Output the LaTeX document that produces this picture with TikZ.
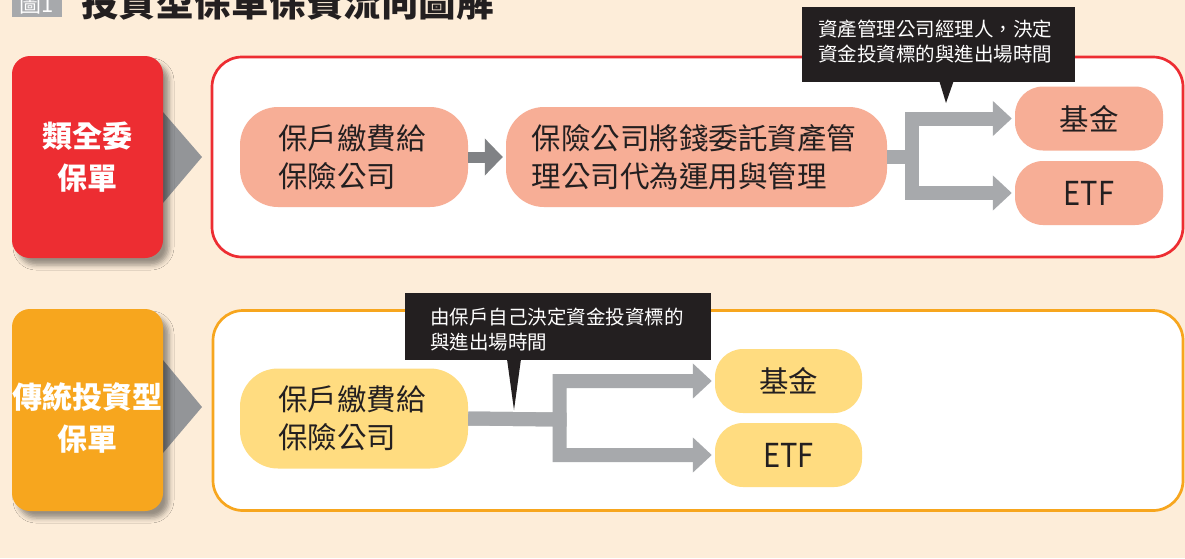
\documentclass[tikz,border=0pt]{standalone}
\usepackage{fontspec}
\newfontfamily\cjk{Noto Sans CJK TC}
\usetikzlibrary{arrows.meta,shadows.blur,calc}
\definecolor{bg}{RGB}{253,237,217}
\definecolor{rred}{RGB}{237,45,50}
\definecolor{oorange}{RGB}{247,166,30}
\definecolor{salmon}{RGB}{247,174,150}
\definecolor{yel}{RGB}{255,220,128}
\definecolor{ink}{RGB}{35,31,32}
\definecolor{gdark}{RGB}{128,130,133}
\definecolor{glight}{RGB}{167,169,172}
\definecolor{gtri}{RGB}{147,149,152}
\newcommand\etf{\scalebox{0.88}[1]{\fontsize{33}{33}\selectfont ETF}}
\tikzset{
 labelbox/.style={rounded corners=18pt, minimum width=151pt, minimum height=202pt, inner sep=0pt,
   blur shadow={shadow xshift=6pt, shadow yshift=-7pt, shadow blur radius=5pt, shadow opacity=40}},
 labeltext/.style={text=white, font=\cjk\bfseries\fontsize{30}{42}\selectfont, align=center, inner sep=0pt},
 frame/.style={draw, line width=2.7pt, fill=white, rounded corners=30pt, inner sep=0pt},
 stepbox/.style={rounded corners=38pt, minimum height=100pt, text=ink, font=\cjk\fontsize{29.5}{38}\selectfont, align=left, inner sep=0pt},
 leafbox/.style={rounded corners=28pt, minimum width=148pt, minimum height=64pt, text=ink, font=\cjk\fontsize{29.5}{36}\selectfont, inner sep=0pt},
 callbox/.style={fill=ink, inner sep=0pt},
 calltext/.style={text=white, font=\cjk\fontsize{19.5}{25}\selectfont, align=left, inner sep=0pt},
 branch/.style={draw=glight, line width=14pt, line join=miter, -{Triangle[length=19pt,width=34pt]}, shorten >=3pt},
 smallarrow/.style={draw=gdark, line width=11pt, -{Triangle[length=18pt,width=36pt]}, shorten >=3pt},
}
\begin{document}
\begin{tikzpicture}[x=1pt,y=-1pt]
\useasboundingbox (0,0) rectangle (1185,558);
\clip (0,0) rectangle (1185,558);
\fill[bg] (0,0) rectangle (1185,558);

% title (cut at top, as in the reference)
\fill[glight] (12,-20) rectangle (62,17);
\node[anchor=base, text=white, inner sep=0pt, font=\cjk\fontsize{22}{22}\selectfont] (titlenum) at (37,12) {圖1};
\node[anchor=base west, inner sep=0pt, text=ink, font=\cjk\bfseries\fontsize{37.5}{40}\selectfont] (title) at (81,16) {投資型保單保費流向圖解};

% ---------- row 1 ----------
\fill[gtri] (163,112) -- (202,157) -- (163,203) -- cycle;
\node[labelbox, fill=rred] (lab1) at (87.5,157) {};
\node[labeltext] (lab1t) at (87.5,157) {類全委\\保單};
\node[frame, draw=rred, minimum width=971pt, minimum height=200pt] (fr1) at (697.5,157) {};

\node[stepbox, fill=salmon, minimum width=228pt, text width=152pt] (p1) at (354,157) {保戶繳費給\\保險公司};
\node[stepbox, fill=salmon, minimum width=381pt, text width=330pt] (p2) at (696.5,157) {保險公司將錢委託資產管\\理公司代為運用與管理};
\node[leafbox, fill=salmon] (f1) at (1089,118.5) {基金};
\node[leafbox, fill=salmon] (e1) at (1089,193) {\etf};

\draw[smallarrow] (p1.east) -- (p2.west);
\draw[branch] (p2.east) -- (912,157) |- (f1.west);
\draw[branch] (p2.east) -- (912,157) |- (e1.west);

\node[callbox, minimum width=273pt, minimum height=75pt] (c1) at (938.5,44.5) {};
\fill[ink] (939,80) -- (954,80) -- (946,103) -- cycle;
\node[calltext, anchor=west] (c1t) at ($(c1.west)+(16,-3)$) {資產管理公司經理人，決定\\資金投資標的與進出場時間};

% ---------- row 2 ----------
\fill[gtri] (163,360) -- (202,407) -- (163,453) -- cycle;
\node[labelbox, fill=oorange] (lab2) at (87.5,410) {};
\node[labeltext] (lab2t) at (87.5,418) {傳統投資型\\保單};
\node[frame, draw=oorange, minimum width=970pt, minimum height=200pt] (fr2) at (698,410.5) {};

\node[stepbox, fill=yel, minimum width=228pt, text width=152pt] (q1) at (354,418.5) {保戶繳費給\\保險公司};
\node[leafbox, fill=yel, minimum width=147pt] (f2) at (788.5,381) {基金};
\node[leafbox, fill=yel, minimum width=147pt] (e2) at (788.5,455) {\etf};

\draw[branch] (q1.east) -- (559.5,419.5) |- (f2.west);
\draw[branch] (q1.east) -- (559.5,419.5) |- (e2.west);

\node[callbox, minimum width=306pt, minimum height=67pt] (c2) at (558,326.5) {};
\fill[ink] (507,359) -- (521,359) -- (514,410) -- cycle;
\node[calltext, anchor=west] (c2t) at ($(c2.west)+(25,3.5)$) {由保戶自己決定資金投資標的\\與進出場時間};
\end{tikzpicture}
\end{document}
